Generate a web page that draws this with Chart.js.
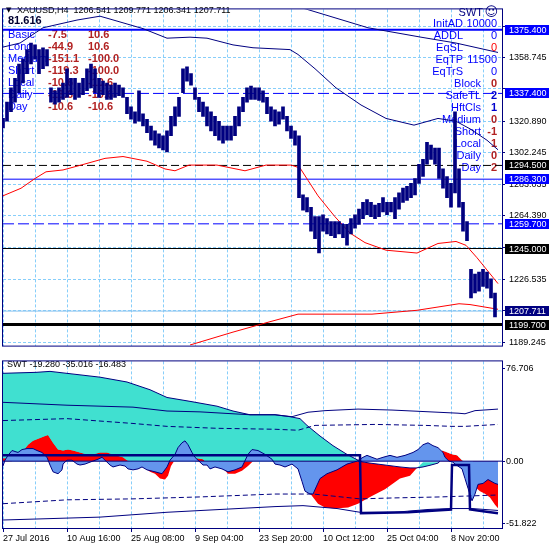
<!DOCTYPE html>
<html>
<head>
<meta charset="utf-8">
<script src="https://cdn.jsdelivr.net/npm/chart.js@4.4.1/dist/chart.umd.min.js"></script>
<style>
  html, body { margin: 0; padding: 0; background: #fff; }
  #wrap { position: relative; width: 550px; height: 550px; overflow: hidden; }
  canvas { position: absolute; left: 0; }
</style>
</head>
<body>
<div id="wrap">
  <canvas id="priceChart" width="550" height="355" style="top:0"></canvas>
  <canvas id="swtChart" width="550" height="195" style="top:355px"></canvas>
</div>
<script>
// XAUUSD H4 with the SWT indicator window below
const NAVY = '#000080', BLUE = '#0000ff', GRID = '#87cefa', TURQ = '#40e0d0',
      CORN = '#6495ed', RED = '#ff0000', BRICK = '#b22222';
const FONT = '"Liberation Sans", Arial, sans-serif';
Chart.defaults.font.family = FONT;

// time axis: one bar per pixel, grid every 32 bars, a date every 64
const dateLabels = ['27 Jul 2016', '10 Aug 16:00', '25 Aug 08:00', '9 Sep 04:00',
                    '23 Sep 20:00', '10 Oct 12:00', '25 Oct 04:00', '8 Nov 20:00'];
const gridBars = [0, 32, 64, 96, 128, 160, 192, 224, 256, 288, 320, 352, 384, 416, 448, 480];
const lastBar = 499;

// price, sampled every 4 bars (high / low of each group)
const priceHigh = [
  1322.5, 1332.2, 1340.7, 1346.4, 1354.9, 1357.8, 1363.5, 1367.4, 1366.3, 1363.5,
  1364.6, 1363.5, 1340.7, 1338.9, 1340.7, 1343.6, 1352.1, 1346.4, 1346.4, 1343.6,
  1346.4, 1352.1, 1354.9, 1352.1, 1346.4, 1344.7, 1343.6, 1342.3, 1343.6, 1342.3,
  1340.7, 1335.0, 1329.4, 1326.5, 1338.9, 1325.3, 1322.0, 1318.0, 1315.1, 1313.3,
  1312.2, 1315.1, 1323.7, 1329.4, 1335.0, 1352.1, 1353.2, 1349.2, 1340.7, 1335.0,
  1332.2, 1329.4, 1326.5, 1323.7, 1320.8, 1318.0, 1318.0, 1318.0, 1323.7, 1329.4,
  1335.0, 1340.7, 1341.8, 1340.7, 1340.7, 1338.9, 1335.0, 1329.4, 1327.6, 1326.5,
  1329.4, 1323.7, 1318.0, 1315.1, 1312.2, 1277.0, 1275.3, 1269.6, 1264.0, 1264.0,
  1265.1, 1262.8, 1261.1, 1261.1, 1261.1, 1259.4, 1259.4, 1262.8, 1265.1, 1268.5,
  1272.5, 1274.2, 1272.5, 1270.8, 1271.9, 1275.3, 1272.5, 1272.5, 1275.3, 1278.1,
  1281.0, 1282.1, 1283.8, 1286.7, 1295.2, 1298.1, 1308.3, 1306.6, 1304.9, 1304.9,
  1292.4, 1287.9, 1283.8, 1326.5, 1292.4, 1272.5, 1261.1, 1232.6, 1229.8, 1230.9,
  1232.6, 1230.9, 1226.9, 1218.5
];
const priceLow = [
  1316.9, 1320.8, 1326.5, 1332.2, 1337.9, 1343.6, 1349.2, 1354.9, 1357.8, 1349.2,
  1352.1, 1353.8, 1332.2, 1331.0, 1332.2, 1333.8, 1335.0, 1336.7, 1333.8, 1335.0,
  1336.7, 1339.0, 1340.7, 1337.9, 1335.0, 1336.7, 1333.8, 1333.8, 1335.0, 1336.1,
  1335.0, 1325.3, 1322.0, 1319.7, 1320.8, 1318.0, 1314.0, 1309.5, 1306.6, 1304.9,
  1303.8, 1302.6, 1312.2, 1318.0, 1323.7, 1337.9, 1344.7, 1342.3, 1333.8, 1326.5,
  1323.7, 1318.0, 1315.1, 1312.2, 1309.5, 1307.7, 1309.5, 1309.5, 1312.2, 1318.0,
  1326.5, 1332.2, 1333.8, 1333.8, 1333.2, 1332.2, 1325.3, 1320.8, 1318.0, 1319.1,
  1322.0, 1315.1, 1310.6, 1306.6, 1275.3, 1267.9, 1266.8, 1255.4, 1250.9, 1242.3,
  1255.4, 1253.7, 1252.6, 1251.4, 1253.7, 1251.4, 1247.0, 1253.7, 1257.1, 1259.4,
  1262.8, 1265.1, 1264.0, 1262.8, 1264.0, 1266.8, 1265.1, 1266.8, 1262.8, 1268.5,
  1272.5, 1273.6, 1275.3, 1277.0, 1283.8, 1287.9, 1295.2, 1298.1, 1295.2, 1286.7,
  1281.0, 1275.3, 1269.6, 1278.1, 1269.6, 1255.4, 1249.7, 1215.6, 1218.5, 1219.6,
  1222.4, 1221.3, 1215.6, 1204.2
];
const sampleStep = 4;

// moving averages on the price window: [bar, price]
const maNavyA = [[0,1365.0],[17,1367.4],[40,1376.5],[74,1381.1],[97,1383.4],[107,1381.7],[140,1376.0],
  [164,1370.3],[187,1370.9],[204,1370.3],[230,1366.3],[250,1364.6],[287,1363.5],[295,1360.6],
  [312,1352.1],[333,1340.7],[358,1330.5],[383,1322.5],[411,1318.5],[435,1322.5],[453,1320.8],
  [467,1316.3],[484,1309.5],[495,1303.8]];
const maNavyB = [[267,1394.0],[305,1387.3],[365,1376.5],[418,1370.9],[453,1367.4],[495,1361.8]];
const maRedA = [[0,1276.4],[18,1280.9],[32,1286.7],[43,1290.7],[60,1291.8],[78,1294.7],[102,1298.7],
  [120,1299.8],[144,1297.0],[162,1292.4],[172,1291.3],[186,1294.7],[214,1294.7],[242,1291.3],
  [263,1294.7],[288,1294.7],[297,1293.0],[305,1285.6],[315,1276.4],[332,1263.9],[347,1254.2],
  [362,1248.5],[383,1244.0],[414,1242.3],[435,1248.0],[453,1249.2],[463,1246.9],[474,1239.5],
  [495,1224.1]];
const maRedB = [[187,1187.5],[230,1195.2],[267,1201.4],[295,1205.9],[330,1205.9],[369,1205.9],
  [414,1208.2],[456,1212.1],[467,1211.6],[495,1208.8]];

// horizontal levels and their styles
const levelValues = [1375.4, 1337.4, 1294.5, 1286.3, 1259.7, 1245.0, 1207.711, 1199.7];
const levelColor  = [BLUE, BLUE, '#000', BLUE, BLUE, '#000', '#8cc4f0', '#000'];
const levelWidth  = [2, 1, 1, 1, 1, 1, 1, 3];
const levelDash   = [[], [11, 4], [8, 4], [], [11, 4], [], [], []];
const levelBox    = [BLUE, BLUE, '#000', BLUE, BLUE, '#000', NAVY, '#000'];

// price scale grid
const priceGrid = [1377.390, 1358.745, 1340.100, 1320.890, 1302.245, 1283.035, 1264.390,
                   1245.680, 1226.535, 1207.890, 1189.245];
const priceGridShown = [false, true, false, true, true, true, true, false, true, false, true];
const priceMin = 1187.16, priceMax = 1387.45;

// header and info panels
const symbolText = 'XAUUSD,H4';
const headerOHLC = [1206.541, 1209.771, 1206.341, 1207.711];
const topValue = '81.616';
const leftRows = ['Basic', 'Long', 'Medium', 'Short', 'Local', 'Daily', 'Day'];
const leftColA = [-7.5, -44.9, -151.1, -119.3, -10.6, -13.6, -10.6];
const leftColB = [10.6, 10.6, -100.0, -100.0, -10.6, -10.6, -10.6];
const infoRows = ['InitAD', 'ADDL', 'EqSL', 'EqTP', 'EqTrS'];
const infoVals = ['10000', '0', '0', '11500', '0'];
const infoColor = [BLUE, BLUE, RED, BLUE, BLUE];
const flagRows = ['Block', 'SafeTL', 'HftCls', 'Medium', 'Short', 'Local', 'Daily', 'Day'];
const flagVals = [0, 2, 1, 0, -1, 1, 0, 2];
const flagColor = [BRICK, '#0000cd', '#0000cd', BRICK, BRICK, BRICK, BRICK, BRICK];

// SWT window: [bar, value]
const swtTitle = 'SWT -19.280 -35.016 -16.483';
const swtTicks = [76.706, 0, -51.822];
const swtTickText = ['76.706', '0.00', '-51.822'];
const swtMin = -55.31, swtMax = 82.56;
const swtTop = [[0,72.7],[33,73.5],[47,74.3],[97,69.5],[124,65.5],[147,59.1],[164,52.7],[187,49.5],
  [214,45.5],[230,41.5],[247,38.4],[272,38.4],[287,36.8],[297,35.2],[304,29.6],[317,20.8],
  [330,12.8],[344,5.6],[355,0.8],[359,0]];
const swtOsc = [[0,-4.0],[2,0.8],[5,4.8],[9,8.8],[12,8.0],[15,7.2],[19,9.6],[24,10.4],[30,10.4],
  [34,8.8],[39,7.2],[44,3.2],[47,-3.2],[50,-8.8],[55,-10.4],[59,-7.2],[60,-2.4],[64,0.8],[69,0.8],
  [74,-2.4],[77,-3.2],[82,-2.4],[87,-0.8],[95,1.6],[99,3.2],[102,0.8],[107,-3.2],[110,-4.8],
  [117,-3.2],[122,-4.0],[125,-6.4],[130,-7.2],[135,-6.4],[139,-4.8],[144,-7.2],[152,-8.8],
  [159,-10.4],[164,-4.8],[167,0.8],[172,5.6],[175,11.2],[179,15.2],[182,16.8],[185,13.6],
  [189,7.2],[192,3.2],[197,-0.8],[200,-3.2],[204,-3.2],[207,-6.4],[212,-4.8],[219,-6.4],
  [225,-8.8],[232,-7.2],[239,-4.8],[245,5.6],[249,9.6],[255,8.8],[262,5.6],[269,1.6],[272,-2.4],
  [277,-3.2],[282,-4.8],[289,-2.4],[295,-6.4],[299,-16.8],[302,-24.8],[307,-27.2],[310,-27.2],
  [317,-14.4],[324,-10.4],[334,-7.2],[344,-2.4],[354,0],[360,3.2],[364,4.8],[369,3.2],[374,1.6],
  [380,3.2],[387,4.8],[394,3.2],[402,4.8],[410,7.2],[415,9.6],[420,13.6],[425,15.2],[430,12.8],
  [435,11.2],[440,7.2],[442,3.2],[446,0],[450,-0.8],[452,-2.4],[459,-6.4],[462,-14.4],
  [465,-22.4],[469,-32.8],[472,-27.2],[475,-19.2],[480,-18.4],[485,-15.2],[492,-18.4],[495,-19.2]];
// red / turquoise band between two lines
const cloudBar = [0, 5, 9, 17, 22, 25, 30, 37, 42, 45,
  50, 55, 60, 65, 70, 77, 87, 97, 104, 110,
  120, 124, 127, 139, 142, 147, 152, 157, 162, 165,
  168, 171, 192, 194, 200, 202, 216, 219, 225, 232,
  239, 245, 250, 297, 302, 309, 315, 322, 332, 345,
  355, 367, 382, 397, 407, 413, 420, 428, 435, 437,
  439, 442, 447, 450, 454, 459, 461, 470, 473, 477,
  482, 487, 492, 495];
const cloudFast = [0, 0, 0, 0, 0, 0, 0, 0, 0, 0,
  0, 0, 0, 0, 0, 0, 0, 0, 0, 0,
  0, 0, 0, 0, -5.6, -8.8, -10.4, -14.4, -15.2, -12.0,
  -4.0, 0, 0, 0, 0, 0, 0, -5.0, -10.4, -10.4,
  -8.0, -4.0, 0, 0, -20.0, -28.8, -35.2, -38.4, -39.2, -38.4,
  -35.2, -29.6, -23.2, -14.4, -12.0, -6.4, -0.8, -0.8, -0.8, 0,
  0, 0, 0, 0, 0, 0, 0, 0, -22.0, -25.0,
  -27.0, -30.0, -36.0, -39.0];
const cloudSlow = [2.4, 2.4, 0, 0, 10.4, 13.6, 16.8, 19.2, 20.8, 21.6,
  15.2, 9.6, 8.8, 9.6, 8.8, 7.2, 4.8, 7.2, 7.2, 5.6,
  3.2, 0.8, 0, 0, 0, 0, 0, 0, 0, 0,
  0, 0, 0, 2.4, 1.6, 0, 0, 0, 0, 0,
  0, 0, 0, 0, 0, 0, 0, 0, 0, 0,
  0, -1.6, -3.2, -4.8, -5.6, -5.6, -4.8, -3.2, -1.6, 0,
  8.8, 8.0, 6.4, 5.6, 4.8, 0.8, 0, 0, 0, 0,
  0, 0, 0, 0];
const swtStep = [[0,4.8],[357,4.8],[358,-43.1],[405,-42.3],[448,-40.0],[449,-3.2],[466,-3.2],
  [467,-40.0],[480,-41.5],[495,-43.1]];
const swtUpper = [[0,48.7],[64,46.3],[130,44.7],[164,41.5],[197,40.8],[230,39.2],[247,38.4],
  [272,38.4],[289,36.8],[305,40.5],[322,41.8],[355,43.1],[389,42.3],[422,41.0],[455,39.7],
  [462,39.2],[472,41.8],[495,43.1]];
const swtUpperDash = [[0,33.6],[64,35.2],[130,31.2],[164,28.8],[214,27.2],[272,26.4],[295,25.6],
  [312,29.6],[372,30.4],[422,29.6],[449,28.8],[462,28.8],[495,30.4]];
const swtLowerDash = [[0,-35.2],[64,-32.0],[130,-31.2],[197,-29.6],[272,-27.2],[310,-27.2],
  [357,-31.2],[392,-30.4],[437,-29.6],[495,-28.0]];
const swtLower = [[0,-48.7],[97,-46.3],[164,-42.3],[272,-37.6],[300,-36.8],[334,-39.2],
  [357,-42.3],[392,-42.3],[425,-40.0],[447,-39.2],[469,-39.2],[495,-40.8]];

const pts = arr => arr.map(([x, y]) => ({ x, y }));
const line = (data, color, width, dash, order) => ({
  type: 'line', data, borderColor: color, borderWidth: width, borderDash: dash || [],
  pointRadius: 0, fill: false, tension: 0, order
});
const frame = {
  id: 'frame',
  afterDraw(chart) {
    const { ctx, chartArea: a } = chart;
    ctx.save();
    ctx.strokeStyle = NAVY; ctx.lineWidth = 1;
    ctx.strokeRect(a.left - 0.5, a.top - 0.5, a.right - a.left + 1, a.bottom - a.top + 1);
    ctx.restore();
  }
};

// ---------- price window ----------
const pricePanels = {
  id: 'pricePanels',
  beforeDatasetsDraw(chart) {
    const ctx = chart.ctx;
    ctx.save();
    ctx.textBaseline = 'middle';
    ctx.fillStyle = '#000';
    ctx.font = '7px "DejaVu Sans"';
    ctx.fillText('\u25BC', 6, 10);
    ctx.font = '9px ' + FONT;
    ctx.fillText(symbolText + '  ' + headerOHLC.map(v => v.toFixed(3)).join(' '), 17, 10.5);
    ctx.fillStyle = '#000030';
    ctx.font = 'bold 11px ' + FONT;
    ctx.fillText(topValue, 8, 21);
    leftRows.forEach((r, i) => {
      const y = 34.5 + i * 12;
      ctx.font = '11px ' + FONT; ctx.fillStyle = BLUE; ctx.textAlign = 'left';
      ctx.fillText(r, 8, y);
      ctx.font = 'bold 11px ' + FONT; ctx.fillStyle = BRICK;
      ctx.fillText(leftColA[i].toFixed(1), 48, y);
      ctx.fillText(leftColB[i].toFixed(1), 88, y);
    });
    ctx.textAlign = 'right';
    ctx.font = '11px ' + FONT; ctx.fillStyle = NAVY;
    ctx.fillText('SWT', 483, 12.5);
    ctx.font = '13px "DejaVu Sans"';
    ctx.fillText('\u263A', 498, 12.5);
    infoRows.forEach((r, i) => {
      const y = 23.5 + i * 12;
      ctx.font = '11px ' + FONT; ctx.fillStyle = BLUE;
      ctx.fillText(r, 463, y);
      ctx.fillStyle = infoColor[i];
      ctx.fillText(infoVals[i], 497, y);
    });
    flagRows.forEach((r, i) => {
      const y = 84 + i * 12;
      ctx.font = '11px ' + FONT; ctx.fillStyle = BLUE;
      ctx.fillText(r, 481, y);
      ctx.font = 'bold 11px ' + FONT; ctx.fillStyle = flagColor[i];
      ctx.fillText(String(flagVals[i]), 497, y);
    });
    ctx.restore();
  },
  afterDraw(chart) {
    const { ctx } = chart, ys = chart.scales.y;
    ctx.save();
    ctx.font = '9px ' + FONT; ctx.textBaseline = 'middle'; ctx.textAlign = 'left';
    levelValues.forEach((v, i) => {
      const py = Math.round(ys.getPixelForValue(v));
      ctx.fillStyle = levelBox[i];
      ctx.fillRect(505, py - 5, 44, 10);
      ctx.fillStyle = '#fff';
      ctx.fillText(v.toFixed(3), 509, py + 0.5);
    });
    ctx.restore();
  }
};

const priceData = priceHigh.map((h, i) => ({ x: i * sampleStep, y: [priceLow[i], h] }));
const priceSets = [
  { type: 'bar', data: priceData, backgroundColor: NAVY, barThickness: 3, order: 0 },
  line(pts(maNavyA), NAVY, 1, [], 1),
  line(pts(maNavyB), NAVY, 1, [], 1),
  line(pts(maRedA), RED, 1, [], 1),
  line(pts(maRedB), RED, 1, [], 1),
  ...levelValues.map((v, i) => line([{ x: 0, y: v }, { x: lastBar, y: v }],
    levelColor[i], levelWidth[i], levelDash[i], 2))
];

new Chart(document.getElementById('priceChart'), {
  type: 'bar',
  data: { datasets: priceSets },
  options: {
    responsive: false, animation: false, devicePixelRatio: 1,
    layout: { padding: { left: 3, top: 2, right: 0, bottom: 2 } },
    plugins: { legend: { display: false }, tooltip: { enabled: false } },
    scales: {
      x: {
        type: 'linear', min: 0, max: lastBar, offset: false,
        afterBuildTicks: s => { s.ticks = gridBars.map(v => ({ value: v })); },
        afterFit: s => { s.height = 0; },
        ticks: { display: false },
        grid: { color: GRID, drawTicks: false, offset: false },
        border: { display: false, dash: [3, 2] }
      },
      y: {
        type: 'linear', position: 'right', min: priceMin, max: priceMax,
        afterBuildTicks: s => { s.ticks = priceGrid.map(v => ({ value: v })); },
        afterFit: s => { s.width = 48; },
        ticks: {
          autoSkip: false, color: '#000', padding: 4, font: { size: 9 },
          callback: (v, i) => priceGridShown[i] ? priceGrid[i].toFixed(3) : ''
        },
        grid: { color: GRID, tickColor: NAVY, tickLength: 3 },
        border: { display: false, dash: [3, 2] }
      }
    }
  },
  plugins: [pricePanels, frame]
});

// ---------- SWT window ----------
const swtText = {
  id: 'swtText',
  beforeDatasetsDraw(chart) {
    const ctx = chart.ctx;
    ctx.save();
    ctx.font = '9px ' + FONT; ctx.fillStyle = '#000'; ctx.textBaseline = 'middle';
    ctx.fillText(swtTitle, 7, 9.5);
    ctx.restore();
  }
};
const cloudFastPts = cloudBar.map((x, i) => ({ x, y: cloudFast[i] }));
const cloudSlowPts = cloudBar.map((x, i) => ({ x, y: cloudSlow[i] }));
const signalPts = cloudSlowPts.filter(p => p.x >= 355 && p.x <= 437);

new Chart(document.getElementById('swtChart'), {
  type: 'line',
  data: {
    datasets: [
      line(pts(swtStep), NAVY, 2.5, [], 0),
      line([{ x: 0, y: 0 }, { x: lastBar, y: 0 }], NAVY, 1, [], 1),
      line(pts(swtUpper), NAVY, 1, [], 1),
      line(pts(swtUpperDash), NAVY, 1, [5, 3], 1),
      line(pts(swtLowerDash), NAVY, 1, [5, 3], 1),
      line(pts(swtLower), NAVY, 1, [], 1),
      line(signalPts, NAVY, 1, [], 1),
      Object.assign(line(pts(swtOsc), NAVY, 1, [], 2), { fill: 'origin', backgroundColor: CORN }),
      Object.assign(line(cloudFastPts, 'rgba(0,0,0,0)', 0, [], 3),
        { fill: { target: '+1', above: TURQ, below: RED } }),
      line(cloudSlowPts, 'rgba(0,0,0,0)', 0, [], 4),
      Object.assign(line(pts(swtTop), NAVY, 1, [], 5), { fill: 'origin', backgroundColor: TURQ })
    ]
  },
  options: {
    responsive: false, animation: false, devicePixelRatio: 1,
    layout: { padding: { left: 3, top: 1, right: 0, bottom: 0 } },
    plugins: { legend: { display: false }, tooltip: { enabled: false } },
    scales: {
      x: {
        type: 'linear', min: 0, max: lastBar,
        afterBuildTicks: s => { s.ticks = gridBars.map(v => ({ value: v })); },
        afterFit: s => { s.height = 22; },
        ticks: {
          autoSkip: false, maxRotation: 0, align: 'start', color: '#000', padding: 1,
          font: { size: 9 },
          callback: (v, i) => i % 2 === 0 ? dateLabels[i / 2] : ''
        },
        grid: {
          color: GRID, tickLength: 4,
          tickColor: c => c.index % 2 === 0 ? NAVY : 'rgba(0,0,0,0)'
        },
        border: { display: false, dash: [3, 2] }
      },
      y: {
        type: 'linear', position: 'right', min: swtMin, max: swtMax,
        afterBuildTicks: s => { s.ticks = swtTicks.map(v => ({ value: v })); },
        afterFit: s => { s.width = 48; },
        ticks: {
          autoSkip: false, color: '#000', padding: 1, font: { size: 9 },
          callback: (v, i) => swtTickText[i]
        },
        grid: { drawOnChartArea: false, tickColor: NAVY, tickLength: 3 },
        border: { display: false }
      }
    }
  },
  plugins: [swtText, frame]
});
</script>
</body>
</html>
